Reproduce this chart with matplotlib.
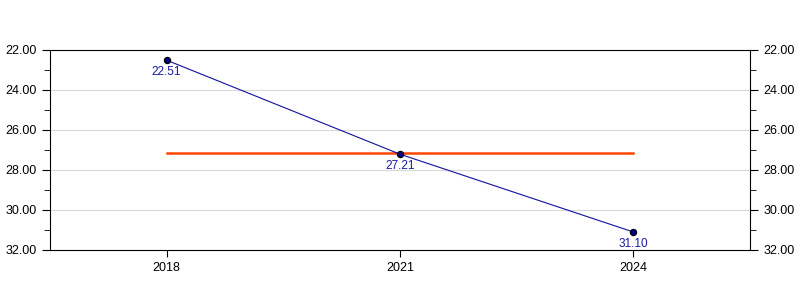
import numpy as np
import matplotlib.pyplot as plt
from matplotlib.ticker import MultipleLocator, FormatStrFormatter

plt.rcParams['font.family'] = ['Liberation Sans', 'DejaVu Sans']

years = ["2018", "2021", "2024"]
values = [22.51, 27.21, 31.10]
reference = [27.13, 27.13, 27.13]

fig = plt.figure(figsize=(8, 3), dpi=100)
ax = fig.add_axes([50 / 800, 50 / 300, 700 / 800, 200 / 300])

x = np.arange(len(years))
ax.plot(x, reference, color="#ff4500", linewidth=1.8, zorder=2)
ax.plot(x, values, color="#1010a0", linewidth=0.8, marker="o", markersize=4.5,
        markerfacecolor="#000080", markeredgecolor="black", markeredgewidth=0.8, zorder=3)
for xi, v in zip(x, values):
    ax.annotate(f"{v:.2f}", (xi, v), xytext=(0, -4), textcoords="offset points",
                ha="center", va="top", fontsize=8.5, color="#1a1aa0")

ax.set_xlim(-0.5, 2.5)
ax.set_ylim(32, 22)
ax.set_xticks(x)
ax.set_xticklabels(years)
ax.yaxis.set_major_locator(MultipleLocator(2))
ax.yaxis.set_minor_locator(MultipleLocator(1))
ax.yaxis.set_major_formatter(FormatStrFormatter("%.2f"))
ax.tick_params(axis="both", which="both", direction="out", labelsize=9,
               left=True, right=True, labelleft=True, labelright=True, top=False)
ax.tick_params(axis="y", which="major", length=6)
ax.tick_params(axis="y", which="minor", length=4)
ax.tick_params(axis="x", length=5)
ax.grid(axis="y", color="#d8d8d8", linewidth=0.8)
ax.set_axisbelow(True)
for s in ax.spines.values():
    s.set_linewidth(0.8)

fig.savefig("out.png", dpi=100)
